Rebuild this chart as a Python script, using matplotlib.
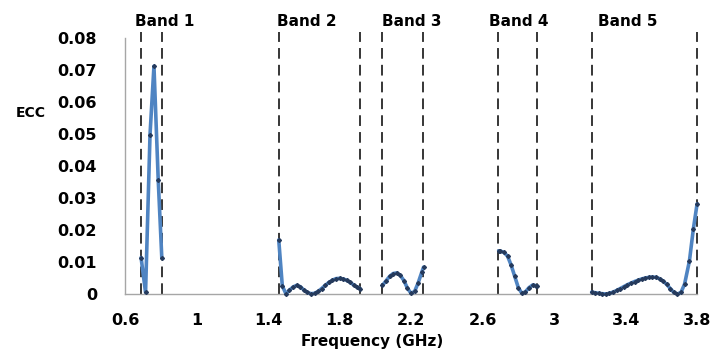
import matplotlib.pyplot as plt

# band 1
f1 = [0.69, 0.715, 0.74, 0.762, 0.786, 0.806]
e1 = [0.0114, 0.0005, 0.0498, 0.0712, 0.0355, 0.0112]
# band 2
f2 = [1.46, 1.48, 1.50, 1.52, 1.54, 1.56, 1.58, 1.60, 1.62, 1.64, 1.66, 1.68,
      1.70, 1.72, 1.74, 1.76, 1.78, 1.80, 1.82, 1.84, 1.86, 1.88, 1.90, 1.915]
e2 = [0.0169, 0.0025, 0.0001, 0.0012, 0.0022, 0.0027, 0.0023, 0.0013, 0.0005, 0.0001,
      0.0002, 0.0008, 0.0017, 0.0027, 0.0036, 0.0043, 0.0048, 0.0049, 0.0047, 0.0043,
      0.0036, 0.0028, 0.0021, 0.0017]
# band 3
f3 = [2.04, 2.06, 2.08, 2.10, 2.12, 2.14, 2.16, 2.18, 2.20, 2.22, 2.24, 2.26, 2.27]
e3 = [0.0027, 0.0041, 0.0055, 0.0064, 0.0066, 0.0058, 0.0042, 0.0018, 0.0002,
      0.0008, 0.0035, 0.0068, 0.0084]
# band 4
f4 = [2.69, 2.70, 2.72, 2.74, 2.76, 2.78, 2.80, 2.82, 2.84, 2.86, 2.88, 2.90, 2.907]
e4 = [0.0135, 0.0134, 0.0130, 0.0118, 0.0090, 0.0055, 0.0020, 0.0002, 0.0007,
      0.0020, 0.0028, 0.0026, 0.0025]
# band 5
f5 = [3.21, 3.23, 3.25, 3.27, 3.29, 3.31, 3.33, 3.35, 3.37, 3.39, 3.41, 3.43, 3.45,
      3.47, 3.49, 3.51, 3.53, 3.55, 3.57, 3.59, 3.61, 3.63, 3.65, 3.67, 3.69, 3.71,
      3.73, 3.757, 3.779, 3.80]
e5 = [0.0006, 0.0004, 0.0002, 0.0001, 0.0000, 0.0002, 0.0006, 0.0011, 0.0017, 0.0023,
      0.0029, 0.0034, 0.0039, 0.0043, 0.0047, 0.0050, 0.0052, 0.0053, 0.0052, 0.0048,
      0.0040, 0.0030, 0.0017, 0.0005, 0.0000, 0.0005, 0.0031, 0.0103, 0.0203, 0.0282]

band_edges = [(0.688, 0.809), (1.463, 1.915), (2.039, 2.269), (2.688, 2.907), (3.211, 3.80)]
band_names = ['Band 1', 'Band 2', 'Band 3', 'Band 4', 'Band 5']
band_label_x = [0.658, 1.452, 2.035, 2.634, 3.245]
xticks = [0.6, 1, 1.4, 1.8, 2.2, 2.6, 3, 3.4, 3.8]
yticks = [0, 0.01, 0.02, 0.03, 0.04, 0.05, 0.06, 0.07, 0.08]

fig = plt.figure(figsize=(7.13, 3.54), dpi=100)
ax = fig.add_axes([0.1753, 0.1695, 0.8024, 0.7232])

for f, e in [(f1, e1), (f2, e2), (f3, e3), (f4, e4), (f5, e5)]:
    ax.plot(f, e, color='#4F84C2', linewidth=2.6, solid_capstyle='round',
            zorder=3, clip_on=False)
    ax.plot(f, e, linestyle='none', marker='D', markersize=2.0,
            color='#253A5C', zorder=4, clip_on=False)

for lo, hi in band_edges:
    for xv in (lo, hi):
        ax.plot([xv, xv], [0, 0.082], color='black', linewidth=1.1,
                dashes=(7, 4), clip_on=False, zorder=2)

for name, xl in zip(band_names, band_label_x):
    ax.text(xl, 0.0852, name, fontsize=11, fontweight='bold', ha='left', va='center')

ax.set_xlim(0.6, 3.8)
ax.set_ylim(0, 0.08)
ax.set_xticks(xticks)
ax.set_xticklabels([f'{t:g}' for t in xticks], fontsize=11.5, fontweight='bold')
ax.set_yticks(yticks)
ax.set_yticklabels([f'{t:g}' for t in yticks], fontsize=11.5, fontweight='bold')
ax.tick_params(length=0, pad=14)
ax.tick_params(axis='y', pad=20)
for s in ['top', 'right']:
    ax.spines[s].set_visible(False)
for s in ['left', 'bottom']:
    ax.spines[s].set_color('#A6A6A6')
    ax.spines[s].set_linewidth(1.0)

fig.text(0.043, 0.68, 'ECC', fontsize=10, fontweight='bold', ha='center', va='center')
fig.text(0.522, 0.034, 'Frequency (GHz)', fontsize=11, fontweight='bold', ha='center', va='center')

fig.savefig('out.png', dpi=100)
